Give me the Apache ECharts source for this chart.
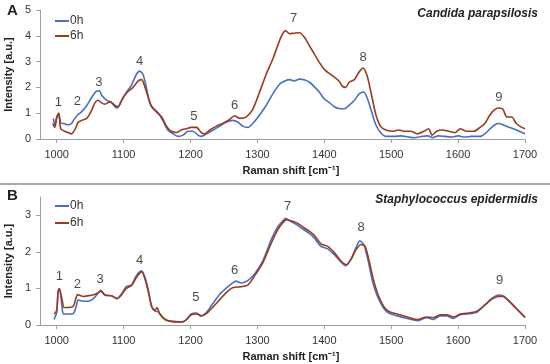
<!DOCTYPE html>
<html><head><meta charset="utf-8">
<script src="https://cdn.jsdelivr.net/npm/echarts@6/dist/echarts.min.js"></script>
<style>html,body{margin:0;padding:0;background:#fff}#c{width:550px;height:364px}</style>
</head><body><div id="c"></div>
<script>
var xTicks = [1000,1100,1200,1300,1400,1500,1600,1700];
var yTicksA = [0,1,2,3,4,5];
var yTicksB = [0,1,2,3];
var seriesNames = ['0h','6h'];
var titleA = 'Candida parapsilosis';
var titleB = 'Staphylococcus epidermidis';

var a0h = [[995,0.8],[997,0.55],[1000,0.85],[1003,1.0],[1006,0.62],[1010,0.6],[1017,0.55],[1022,0.6],[1027,0.8],[1032,0.95],[1037,1.05],[1045,1.3],[1052,1.6],[1059,1.85],[1064,1.87],[1067,1.7],[1075,1.5],[1082,1.4],[1090,1.2],[1097,1.5],[1104,1.8],[1112,2.1],[1119,2.5],[1124,2.63],[1129,2.5],[1134,2.0],[1139,1.4],[1144,1.2],[1152,1.0],[1159,0.7],[1166,0.35],[1174,0.2],[1181,0.1],[1189,0.15],[1196,0.3],[1204,0.3],[1211,0.15],[1216,0.1],[1224,0.2],[1234,0.35],[1244,0.5],[1253,0.65],[1263,0.72],[1271,0.65],[1278,0.5],[1286,0.45],[1293,0.6],[1301,0.85],[1313,1.3],[1323,1.75],[1333,2.12],[1341,2.25],[1348,2.3],[1355,2.25],[1363,2.32],[1370,2.3],[1378,2.2],[1385,2.03],[1393,1.8],[1400,1.55],[1407,1.42],[1415,1.25],[1422,1.18],[1430,1.17],[1437,1.3],[1445,1.5],[1452,1.75],[1459,1.82],[1464,1.6],[1469,1.2],[1477,0.55],[1484,0.25],[1492,0.1],[1504,0.1],[1515,0.12],[1525,0.08],[1535,0.05],[1545,0.1],[1555,0.12],[1562,0.05],[1570,0.12],[1580,0.1],[1590,0.08],[1600,0.12],[1610,0.08],[1620,0.1],[1633,0.1],[1640,0.2],[1648,0.4],[1655,0.55],[1661,0.6],[1667,0.55],[1677,0.45],[1687,0.35],[1700,0.2]];
var a6h = [[994,0.6],[997,0.45],[1000,0.8],[1003,1.0],[1006,0.4],[1012,0.3],[1017,0.25],[1022,0.2],[1027,0.35],[1032,0.65],[1037,0.72],[1045,0.8],[1052,1.1],[1057,1.4],[1062,1.5],[1067,1.4],[1072,1.35],[1080,1.45],[1087,1.3],[1092,1.25],[1099,1.6],[1107,1.85],[1114,2.0],[1122,2.25],[1127,2.3],[1132,2.0],[1137,1.6],[1142,1.25],[1149,1.05],[1157,0.85],[1164,0.5],[1171,0.3],[1179,0.25],[1186,0.35],[1194,0.4],[1201,0.45],[1209,0.45],[1216,0.25],[1221,0.2],[1229,0.35],[1239,0.5],[1248,0.6],[1258,0.75],[1266,0.9],[1273,0.8],[1283,0.85],[1293,1.15],[1303,1.8],[1313,2.5],[1323,3.1],[1330,3.6],[1336,4.0],[1342,4.2],[1348,4.08],[1355,4.1],[1363,4.12],[1370,3.95],[1378,3.6],[1385,3.3],[1393,2.95],[1400,2.7],[1407,2.55],[1415,2.4],[1422,2.25],[1427,2.05],[1432,2.0],[1437,2.2],[1445,2.3],[1452,2.6],[1458,2.75],[1464,2.45],[1469,1.9],[1477,0.95],[1484,0.5],[1492,0.35],[1504,0.3],[1511,0.35],[1519,0.3],[1529,0.3],[1539,0.2],[1549,0.3],[1556,0.4],[1561,0.15],[1568,0.3],[1576,0.35],[1586,0.3],[1596,0.25],[1603,0.4],[1613,0.3],[1623,0.3],[1633,0.45],[1640,0.6],[1648,0.95],[1655,1.15],[1662,1.2],[1667,1.15],[1673,0.85],[1680,0.85],[1687,0.6],[1695,0.45],[1700,0.4]];
var b0h = [[996,0.15],[1000,0.35],[1002,0.9],[1004,1.0],[1008,0.5],[1010,0.3],[1017,0.3],[1025,0.32],[1029,0.5],[1032,0.68],[1040,0.65],[1047,0.65],[1055,0.72],[1062,0.88],[1066,0.92],[1072,0.82],[1082,0.8],[1090,0.72],[1097,0.85],[1104,1.05],[1112,1.1],[1119,1.35],[1127,1.48],[1132,1.3],[1137,0.95],[1142,0.5],[1147,0.38],[1152,0.36],[1159,0.2],[1166,0.12],[1176,0.1],[1186,0.08],[1194,0.15],[1201,0.3],[1209,0.33],[1216,0.25],[1224,0.35],[1234,0.6],[1244,0.85],[1253,1.0],[1263,1.15],[1268,1.2],[1276,1.15],[1286,1.22],[1296,1.4],[1308,1.75],[1321,2.35],[1331,2.7],[1338,2.85],[1342,2.92],[1348,2.85],[1358,2.75],[1368,2.62],[1378,2.5],[1385,2.38],[1395,2.15],[1405,2.08],[1415,1.92],[1425,1.72],[1432,1.62],[1440,1.8],[1447,2.1],[1453,2.3],[1459,2.2],[1465,1.8],[1472,1.2],[1479,0.8],[1489,0.45],[1497,0.32],[1509,0.25],[1524,0.18],[1539,0.12],[1553,0.2],[1563,0.15],[1573,0.25],[1583,0.25],[1593,0.18],[1603,0.28],[1613,0.3],[1628,0.35],[1640,0.55],[1650,0.72],[1660,0.82],[1667,0.8],[1677,0.65],[1687,0.45],[1700,0.2]];
var b6h = [[996,0.3],[1000,0.4],[1002,0.9],[1004,1.0],[1008,0.7],[1011,0.48],[1017,0.48],[1025,0.52],[1029,0.75],[1031,0.83],[1040,0.78],[1047,0.8],[1055,0.83],[1062,0.88],[1066,0.95],[1072,0.82],[1082,0.8],[1090,0.72],[1097,0.83],[1104,1.0],[1112,1.08],[1119,1.3],[1127,1.45],[1132,1.25],[1137,0.9],[1142,0.5],[1147,0.4],[1150,0.48],[1154,0.3],[1162,0.15],[1170,0.1],[1180,0.08],[1188,0.08],[1194,0.15],[1201,0.28],[1209,0.3],[1216,0.25],[1224,0.32],[1234,0.5],[1244,0.7],[1253,0.88],[1263,1.02],[1276,1.05],[1286,1.1],[1296,1.35],[1308,1.7],[1321,2.25],[1331,2.62],[1338,2.8],[1344,2.88],[1350,2.85],[1358,2.8],[1368,2.68],[1378,2.56],[1385,2.45],[1395,2.22],[1405,2.15],[1415,1.98],[1425,1.75],[1433,1.65],[1440,1.8],[1447,2.05],[1455,2.2],[1461,2.15],[1467,1.75],[1474,1.2],[1481,0.8],[1491,0.45],[1499,0.35],[1509,0.3],[1524,0.22],[1539,0.15],[1553,0.22],[1563,0.2],[1573,0.28],[1583,0.28],[1593,0.22],[1603,0.3],[1613,0.32],[1628,0.38],[1640,0.55],[1650,0.7],[1660,0.78],[1667,0.78],[1677,0.63],[1687,0.45],[1700,0.22]];

var peaksA = [[1002.5,1.4,'1'],[1031,1.45,'2'],[1063,2.2,'3'],[1124,3.0,'4'],[1205,0.87,'5'],[1266,1.29,'6'],[1354,4.68,'7'],[1458,3.17,'8'],[1661,1.61,'9']];
var peaksB = [[1004,1.32,'1'],[1031,1.11,'2'],[1065,1.25,'3'],[1124,1.77,'4'],[1208,0.75,'5'],[1266,1.48,'6'],[1345,3.25,'7'],[1455,2.66,'8'],[1662,1.23,'9']];

var FONT = 'Liberation Sans';
var C0 = '#4a6fc1', C6 = '#9a3b20';
var axisCol = '#a0a0a0';

function xAx(idx){
  return {gridIndex: idx, type:'value', min:975, max:1700,
    name:'Raman shift [cm⁻¹]', nameLocation:'middle', nameGap:26,
    nameTextStyle:{fontFamily:FONT, fontWeight:'bold', fontSize:11, color:'#222', padding:[0,0,0,17]},
    axisLine:{show:true, onZero:false, lineStyle:{color:axisCol}},
    axisTick:{show:true, length:4, customValues:xTicks, lineStyle:{color:axisCol}},
    axisLabel:{customValues:xTicks, formatter:function(v){return String(v);}, fontFamily:FONT, fontSize:11, color:'#333', margin:10},
    splitLine:{show:false}};
}
function yAx(idx, max, ticks){
  return {gridIndex: idx, type:'value', min:0, max:max,
    name:'Intensity [a.u.]', nameLocation:'middle', nameGap:19,
    nameTextStyle:{fontFamily:FONT, fontWeight:'bold', fontSize:11, color:'#222'},
    axisLine:{show:true, lineStyle:{color:axisCol}},
    axisTick:{show:true, length:4, customValues:ticks, lineStyle:{color:axisCol}},
    axisLabel:{customValues:ticks, formatter:function(v){return String(v);}, fontFamily:FONT, fontSize:11, color:'#333', margin:9},
    splitLine:{show:false}};
}
function line(name, data, idx, color){
  return {name:name, type:'line', xAxisIndex:idx, yAxisIndex:idx, data:data,
    showSymbol:false, symbol:'none', smooth:0.25, color:color,
    lineStyle:{color:color, width:1.6}, z:3, animation:false};
}
function peaks(data, idx){
  return {type:'scatter', xAxisIndex:idx, yAxisIndex:idx, data:data, symbolSize:0.1,
    silent:true, animation:false, z:5,
    label:{show:true, position:'inside', formatter:function(p){return p.value[2];},
      fontFamily:FONT, fontSize:13, color:'#1a1a1a'}};
}
function legend(top, gap){
  return {orient:'vertical', left:50, top:top, data:seriesNames, icon:'rect',
    itemWidth:14, itemHeight:2, itemGap:gap,
    textStyle:{fontFamily:FONT, fontSize:12, color:'#333', padding:[0,0,0,-4]}};
}

var chart = echarts.init(document.getElementById('c'), null, {renderer:'canvas'});
chart.setOption({
  animation:false,
  backgroundColor:'#fff',
  grid:[{left:40, right:25, top:10, height:129, outerBoundsMode:'none', containLabel:false},
        {left:40, right:25, top:197, height:128, outerBoundsMode:'none', containLabel:false}],
  xAxis:[xAx(0), xAx(1)],
  yAxis:[yAx(0,5,yTicksA), yAx(1,3.5,yTicksB)],
  legend:[legend(10,3), legend(195,5)],
  series:[line('0h',a0h,0,C0), line('6h',a6h,0,C6), line('0h',b0h,1,C0), line('6h',b6h,1,C6),
    peaks(peaksA,0), peaks(peaksB,1)],
  graphic:[
    {type:'line', shape:{x1:0,y1:184,x2:550,y2:184}, style:{stroke:'#a8a8a8', lineWidth:2}},
    {type:'text', left:7, top:3, style:{text:'A', font:'bold 15px "Liberation Sans"', fill:'#222'}},
    {type:'text', left:7, top:188, style:{text:'B', font:'bold 15px "Liberation Sans"', fill:'#222'}},
    {type:'text', right:12, top:8, style:{text:titleA, font:'italic bold 12px "Liberation Sans"', fill:'#222'}},
    {type:'text', right:12, top:194, style:{text:titleB, font:'italic bold 12px "Liberation Sans"', fill:'#222'}}
  ]
});
</script></body></html>
